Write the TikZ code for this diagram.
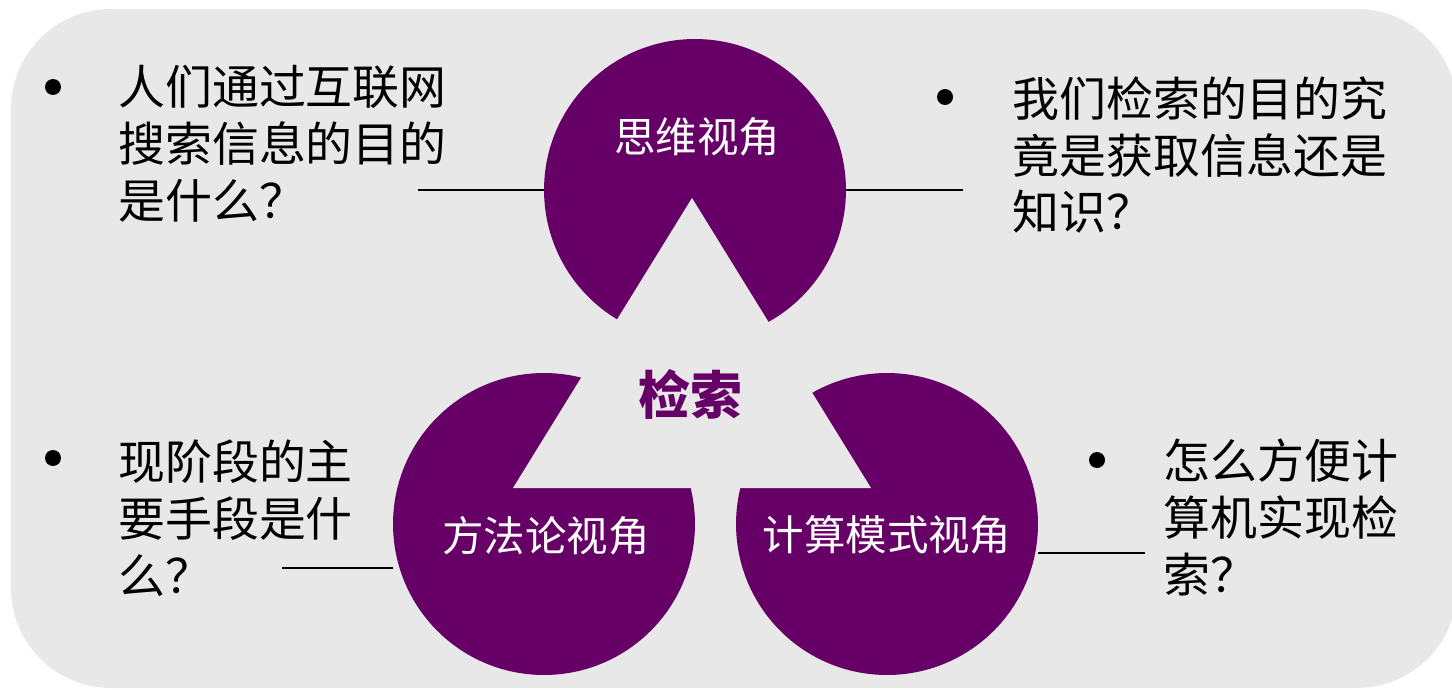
\documentclass[tikz,border=0pt]{standalone}
\usepackage{fontspec}
\newfontfamily\cjk{Noto Sans CJK SC}
\definecolor{bg}{RGB}{232,232,232}
\definecolor{pur}{RGB}{102,0,102}
\begin{document}
\begin{tikzpicture}[x=0.02cm,y=-0.02cm,
  disc/.style={circle,fill=pur,minimum size=6.04cm,inner sep=0},
  qtext/.style={font=\cjk\fontsize{26.7}{32.4}\selectfont,align=left,inner sep=0,anchor=west,text=black},
  ltext/.style={font=\cjk\fontsize{23.6}{28}\selectfont,text=white,inner sep=0},
  dot/.style={circle,fill=black,minimum size=0.32cm,inner sep=0},
  conn/.style={draw=black,line width=1.1pt}]
\useasboundingbox (0,0) rectangle (1452,689);
\fill[bg, rounded corners=2cm] (11,9) rectangle (1457,688);
% three discs
\node[disc] (top) at (695,190) {};
\node[disc] (bl) at (544,524) {};
\node[disc] (br) at (887,524) {};
% central triangular cut-out
\coordinate (ta) at (692,198);
\coordinate (tb) at (513,488);
\coordinate (tc) at (871,488);
\fill[bg] (ta) -- (tb) -- (tc) -- cycle;
% labels
\node[ltext] (tl) at (697,137) {思维视角};
\node[ltext] (bll) at (546,536) {方法论视角};
\node[ltext] (brl) at (887,535) {计算模式视角};
\node[font=\cjk\bfseries\fontsize{29.5}{32}\selectfont,text=pur,inner sep=0] (c) at (690,394) {检索};
% bullets and questions
\node[dot] (d1) at (53,87) {};
\node[qtext] (q1) at (118,144) {人们通过互联网\\搜索信息的目的\\是什么？};
\node[dot] (d2) at (945,97) {};
\node[qtext] (q2) at (1012,155) {我们检索的目的究\\竟是获取信息还是\\知识？};
\node[dot] (d3) at (53,458) {};
\node[qtext] (q3) at (118,518) {现阶段的主\\要手段是什\\么？};
\node[dot] (d4) at (1097,460) {};
\node[qtext] (q4) at (1163,517) {怎么方便计\\算机实现检\\索？};
% connectors
\coordinate (e1) at (418,190);
\coordinate (e2) at (963,190);
\coordinate (e3) at (282,568);
\coordinate (e4) at (1145,553);
\draw[conn] (e1) -- (top.west);
\draw[conn] (top.east) -- (e2);
\draw[conn] (e3) -- (e3 -| bl.west);
\draw[conn] (br.east |- e4) -- (e4);
\end{tikzpicture}
\end{document}
